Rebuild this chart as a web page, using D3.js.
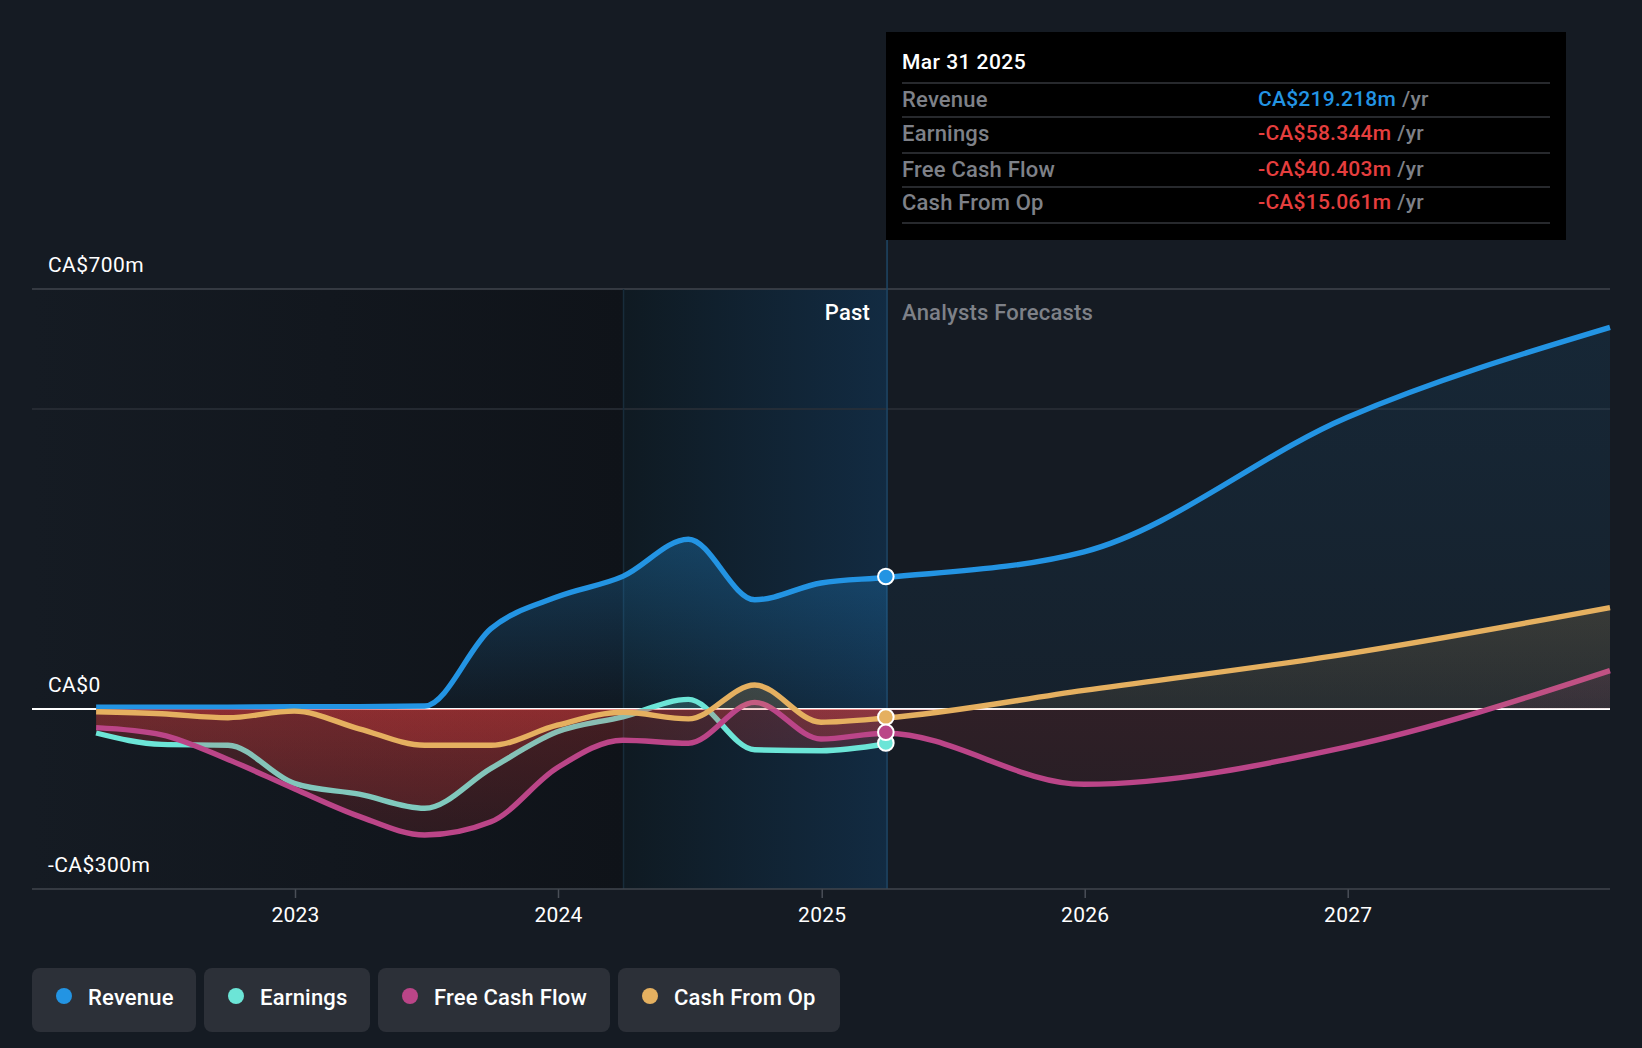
<!DOCTYPE html>
<html>
<head>
<meta charset="UTF-8">
<title>Revenue, Earnings, Free Cash Flow, Cash From Op</title>
<script src="https://d3js.org/d3.v7.min.js"></script>
<style>
    body { margin: 0; background: #151b23; }
    svg { display: block; font-family: Roboto, sans-serif; }
    .domain { display: none; }
</style>
</head>
<body>
<svg id="chart" width="1642" height="1048"></svg>
<script>
// values in CA$ millions
const dates = ["2022-03-31","2022-06-30","2022-09-30","2022-12-31","2023-03-31","2023-06-30","2023-09-30","2023-12-31",
    "2024-03-31","2024-06-30","2024-09-30","2024-12-31","2025-03-31",
    "2025-12-31","2026-12-31","2027-12-31"];
const revenue = [3,3,3,4,4,5,134,187,221,283,182,210,219.2,
    262,486,636];
const earnings = [-40,-59,-60.5,-124,-142,-165.5,-99,-38,-13,16,-68,-69.5,-58.3];
const freeCashFlow = [-31,-43,-84,-133,-179,-210,-188,-98,-52,-57,11,-50,-40.4,
    -125.5,-63,64];
const cashFromOp = [-4.5,-8,-14.5,-3.5,-33,-60.5,-60.5,-27,-5.5,-16.5,40,-22,-15.1,
    31,92,169];

const seriesNames = ["Revenue","Earnings","Free Cash Flow","Cash From Op"];
const seriesValues = [revenue, earnings, freeCashFlow, cashFromOp];
const seriesColors = ["#2394e3","#6ce5d7","#bb4588","#e5b060"];
const tooltipValues = ["CA$219.218m","-CA$58.344m","-CA$40.403m","-CA$15.061m"];
const tooltipDate = "Mar 31 2025";
const yearTicks = [2023,2024,2025,2026,2027];
const yLabelTicks = [700,0,-300];
const gridTicks = [700,500];

const parse = d3.timeParse("%Y-%m-%d");
const red = "#e53e3e";
const font = 21;
const wordFont = 22;
const wordSpacing = "0.2px";
const numberSpacing = "0.25px";

const x = d3.scaleTime().domain([new Date(2022,0,1), new Date(2027,11,31)]).range([32,1610]);
const y = d3.scaleLinear().domain([700,-300]).range([289,889]);
const fmtY = v => v === 0 ? "CA$0" : (v < 0 ? "-" : "") + "CA$" + Math.abs(v) + "m";

const lastPast = dates.indexOf("2025-03-31");
const xNow = x(parse(dates[lastPast]));
const xBandEnd = xNow + 1.2;
const xBandStart = x(parse("2024-03-31")) + 0.7;

const svg = d3.select("#chart");
const defs = svg.append("defs");

function hGrad(id, c0, c1) {
    const g = defs.append("linearGradient").attr("id", id);
    g.append("stop").attr("offset", 0).attr("stop-color", c0);
    g.append("stop").attr("offset", 1).attr("stop-color", c1);
}
hGrad("darkBg", "#151b23", "#0f1319");
hGrad("bandBg", "#0f1a22", "#122b42");

// fill gradient on the whole y range: colour above zero, red below it
function fillGrad(id, color, stops, redTop, redBottom) {
    const g = defs.append("linearGradient").attr("id", id)
        .attr("gradientUnits", "userSpaceOnUse")
        .attr("x1", 0).attr("x2", 0).attr("y1", y(700)).attr("y2", y(-300));
    const off = v => (y(v) - y(700)) / (y(-300) - y(700));
    stops.forEach(s => g.append("stop").attr("offset", off(s[0])).attr("stop-color", color).attr("stop-opacity", s[1]));
    g.append("stop").attr("offset", off(0)).attr("stop-color", red).attr("stop-opacity", redTop);
    g.append("stop").attr("offset", 1).attr("stop-color", red).attr("stop-opacity", redBottom);
}
const pastStops = [[[300,.32],[0,.04]], [[0,.2]], [[0,.2]], [[0,.2]]];
const foreStops = [[[640,.1],[0,.05]], [[0,.1]], [[200,.2],[0,.09]], [[200,.18],[0,.09]]];
seriesNames.forEach((n, i) => {
    fillGrad("past" + i, seriesColors[i], pastStops[i], .25, .09);
    fillGrad("fore" + i, seriesColors[i], foreStops[i], .125, .06);
});

defs.append("clipPath").attr("id", "clipPast").append("rect")
    .attr("x", x.range()[0]).attr("width", xBandEnd - x.range()[0]).attr("y", 0).attr("height", 1048);
defs.append("clipPath").attr("id", "clipFore").append("rect")
    .attr("x", xBandEnd).attr("width", x.range()[1] - xBandEnd).attr("y", 0).attr("height", 1048);

// backgrounds
svg.append("rect").attr("x", x.range()[0]).attr("y", y(700)).attr("width", xBandStart - x.range()[0])
    .attr("height", y(-300) - y(700)).attr("fill", "url(#darkBg)");
svg.append("rect").attr("x", xBandStart).attr("y", y(700)).attr("width", xBandEnd - xBandStart)
    .attr("height", y(-300) - y(700)).attr("fill", "url(#bandBg)");

// grid
svg.selectAll(".grid").data(gridTicks).enter().append("line")
    .attr("class", "grid")
    .attr("x1", x.range()[0]).attr("x2", x.range()[1])
    .attr("y1", d => y(d)).attr("y2", d => y(d))
    .attr("stroke", d => d === 700 ? "#41464e" : "#2b3038").attr("stroke-width", 1.5);

svg.append("line").attr("x1", xBandStart).attr("x2", xBandStart).attr("y1", y(700)).attr("y2", y(-300))
    .attr("stroke", "#182c3b").attr("stroke-width", 1.5);
svg.append("line").attr("x1", xBandEnd).attr("x2", xBandEnd).attr("y1", 239).attr("y2", y(-300))
    .attr("stroke", "#1e4766").attr("stroke-width", 1.5);

// zero line sits under the fills, they tint it
svg.append("line").attr("x1", x.range()[0]).attr("x2", x.range()[1]).attr("y1", y(0)).attr("y2", y(0))
    .attr("stroke", "#ffffff").attr("stroke-width", 2);

// x axis
const xAxis = d3.axisBottom(x)
    .tickValues(yearTicks.map(v => new Date(v, 0, 1)))
    .tickFormat(d3.timeFormat("%Y"))
    .tickSize(9).tickPadding(9);
const gx = svg.append("g").attr("transform", "translate(0," + y(-300) + ")").call(xAxis);
gx.selectAll(".tick line").attr("stroke", "#4a4f57").attr("stroke-width", 1.5);
gx.selectAll(".tick text").attr("fill", "#fff").attr("font-size", font).attr("font-family", "Roboto")
    .style("letter-spacing", numberSpacing);
svg.append("line").attr("x1", x.range()[0]).attr("x2", x.range()[1]).attr("y1", y(-300)).attr("y2", y(-300))
    .attr("stroke", "#41464e").attr("stroke-width", 1.5);

// y labels
const yAxis = d3.axisRight(y).tickValues(yLabelTicks).tickFormat(fmtY).tickSize(0).tickPadding(0);
const gy = svg.append("g").attr("transform", "translate(48,-24.5)").call(yAxis);
gy.selectAll(".tick text").attr("fill", "#fff").attr("font-size", font).attr("font-family", "Roboto")
    .style("letter-spacing", "0.45px");

svg.append("text").attr("x", xBandEnd - 17).attr("y", 312).attr("dy", ".35em").attr("text-anchor", "end")
    .attr("fill", "#fff").attr("font-size", wordFont).attr("font-weight", 500).style("letter-spacing", wordSpacing).text("Past");
svg.append("text").attr("x", xBandEnd + 15).attr("y", 312).attr("dy", ".35em")
    .attr("fill", "#7e8188").attr("font-size", wordFont).attr("font-weight", 500).style("letter-spacing", wordSpacing).text("Analysts Forecasts");

// series
const points = seriesValues.map(vals => vals.map((v, i) => ({ date: parse(dates[i]), value: v })));
const line = d3.line().x(d => x(d.date)).y(d => y(d.value)).curve(d3.curveMonotoneX);
const area = d3.area().x(d => x(d.date)).y0(y(0)).y1(d => y(d.value)).curve(d3.curveMonotoneX);

points.forEach((pts, i) => {
    const g = svg.append("g");
    g.append("path").attr("d", area(pts)).attr("fill", "url(#past" + i + ")").attr("clip-path", "url(#clipPast)");
    g.append("path").attr("d", area(pts)).attr("fill", "url(#fore" + i + ")").attr("clip-path", "url(#clipFore)");
    g.append("path").attr("d", line(pts)).attr("fill", "none").attr("stroke", seriesColors[i]).attr("stroke-width", 5.4);
});

// markers at the last reported date
[1, 0, 3, 2].forEach(i => {
    svg.append("circle").attr("cx", xNow).attr("cy", y(seriesValues[i][lastPast]) - 1).attr("r", 7.8)
        .attr("fill", seriesColors[i]).attr("stroke", "#fff").attr("stroke-width", 2);
});

// tooltip box
const tip = svg.append("g");
tip.append("rect").attr("x", 886).attr("y", 32).attr("width", 680).attr("height", 208).attr("fill", "#000");
tip.append("text").attr("x", 902).attr("y", 62).attr("dy", ".35em").attr("fill", "#fff")
    .attr("font-size", font).attr("font-weight", 500).style("letter-spacing", "0.45px").text(tooltipDate);
const rowLines = [83, 117, 153, 187, 223];
const rowText = [99, 133, 169, 202];
tip.selectAll(".rowline").data(rowLines).enter().append("line")
    .attr("x1", 902).attr("x2", 1550).attr("y1", d => d).attr("y2", d => d)
    .attr("stroke", "#34373c").attr("stroke-width", 1.5);
seriesNames.forEach((n, i) => {
    tip.append("text").attr("x", 902).attr("y", rowText[i]).attr("dy", ".35em")
        .attr("fill", "#7e8188").attr("font-size", wordFont).attr("font-weight", 500).style("letter-spacing", wordSpacing).text(n);
    const t = tip.append("text").attr("x", 1258).attr("y", rowText[i]).attr("dy", ".35em")
        .attr("font-size", font).attr("font-weight", 500).style("letter-spacing", numberSpacing);
    t.append("tspan").attr("fill", i === 0 ? seriesColors[0] : red).text(tooltipValues[i]);
    t.append("tspan").attr("fill", "#7e8188").attr("dx", 6).text("/yr");
});

// legend
const legendX = [32, 204, 378, 618];
const legendW = [164, 166, 232, 222];
seriesNames.forEach((n, i) => {
    const g = svg.append("g").attr("transform", "translate(" + legendX[i] + ",968)");
    g.append("rect").attr("width", legendW[i]).attr("height", 64).attr("rx", 8).attr("fill", "#2c3038");
    g.append("circle").attr("cx", 32).attr("cy", 28).attr("r", 8).attr("fill", seriesColors[i]);
    g.append("text").attr("x", 56).attr("y", 29).attr("dy", ".35em").attr("fill", "#fff")
        .attr("font-size", wordFont).attr("font-weight", 500).style("letter-spacing", wordSpacing).text(n);
});
</script>
</body>
</html>
